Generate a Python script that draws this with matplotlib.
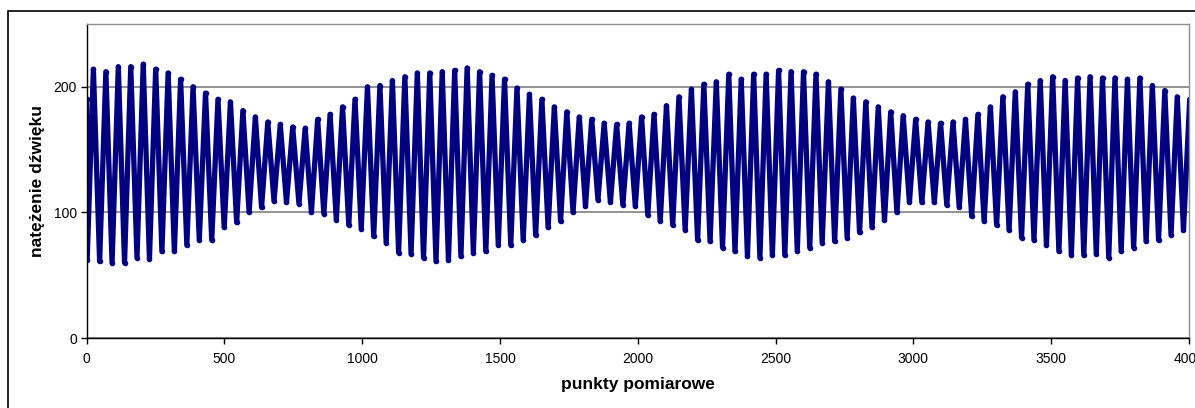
import numpy as np
import matplotlib.pyplot as plt
from matplotlib.patches import Rectangle

plt.rcParams['font.family'] = ['Liberation Sans', 'DejaVu Sans']

# values: the signal is a beat, so keep every crest and trough
start_value = 190
first_peak_x = 25      # measurement point of the first crest
cycle_len = 45.2       # measurement points per oscillation

peaks = [214, 212, 216, 216, 218, 214, 211, 206, 200, 195,
         190, 188, 181, 176, 172, 170, 168, 167, 174, 178,
         184, 190, 200, 201, 205, 208, 211, 211, 212, 213,
         215, 212, 209, 206, 199, 194, 190, 184, 180, 176,
         174, 171, 170, 171, 176, 178, 185, 192, 198, 202,
         204, 210, 206, 210, 210, 213, 212, 212, 210, 204,
         198, 191, 188, 184, 180, 177, 174, 172, 171, 172,
         174, 178, 184, 192, 196, 202, 205, 208, 205, 207,
         208, 207, 207, 206, 207, 201, 197, 192, 190]

troughs = [62, 61, 60, 60, 64, 63, 69, 69, 74, 78,
           78, 88, 92, 100, 104, 109, 108, 107, 100, 99,
           94, 90, 87, 81, 76, 68, 67, 64, 61, 62,
           65, 68, 69, 74, 74, 78, 82, 88, 93, 100,
           105, 110, 108, 106, 105, 98, 93, 90, 86, 78,
           77, 72, 69, 65, 64, 66, 66, 69, 72, 76,
           77, 80, 84, 88, 94, 100, 108, 108, 108, 106,
           104, 97, 93, 90, 86, 80, 78, 74, 69, 66,
           66, 67, 64, 69, 72, 77, 78, 82, 86]

n = len(peaks)
peak_x = first_peak_x + cycle_len * np.arange(n)
trough_x = peak_x - cycle_len / 2      # trough before each crest

xs = [0]
ys = [start_value]
for i in range(n):
    xs += [trough_x[i], peak_x[i]]
    ys += [troughs[i], peaks[i]]

fig = plt.figure(figsize=(11.95, 4.08), dpi=100)
ax = fig.add_axes([86.5 / 1195, 1 - 338 / 408, (1189 - 86.5) / 1195, (338 - 24) / 408])

ax.plot(xs, ys, color='#000080', linewidth=3.8, solid_joinstyle='round',
        solid_capstyle='round', marker='o', markersize=3)

ax.set_xlim(0, 4000)
ax.set_ylim(0, 250)
ax.set_xticks(np.arange(0, 4001, 500))
ax.set_yticks([0, 100, 200])
ax.grid(axis='y', color='#808080', linewidth=1.2)
ax.set_axisbelow(True)
ax.tick_params(direction='out', length=4, width=1, labelsize=10, color='black')
ax.tick_params(axis='x', pad=6)
ax.tick_params(axis='y', pad=3)

for side in ['top', 'right']:
    ax.spines[side].set_color('#909090')
    ax.spines[side].set_linewidth(1)
for side in ['left', 'bottom']:
    ax.spines[side].set_color('black')
    ax.spines[side].set_linewidth(1)

ax.set_xlabel('punkty pomiarowe', fontsize=12.5, fontweight='bold', labelpad=8)
ax.set_ylabel('natężenie dźwięku', fontsize=12.5, fontweight='bold', labelpad=6)

# outer chart frame
fig.patches.append(Rectangle((8 / 1195, -0.1), 1.2, 1 - 11 / 408 + 0.1,
                             transform=fig.transFigure, fill=False,
                             edgecolor='black', linewidth=1.2))

fig.savefig('out.png', dpi=100)
